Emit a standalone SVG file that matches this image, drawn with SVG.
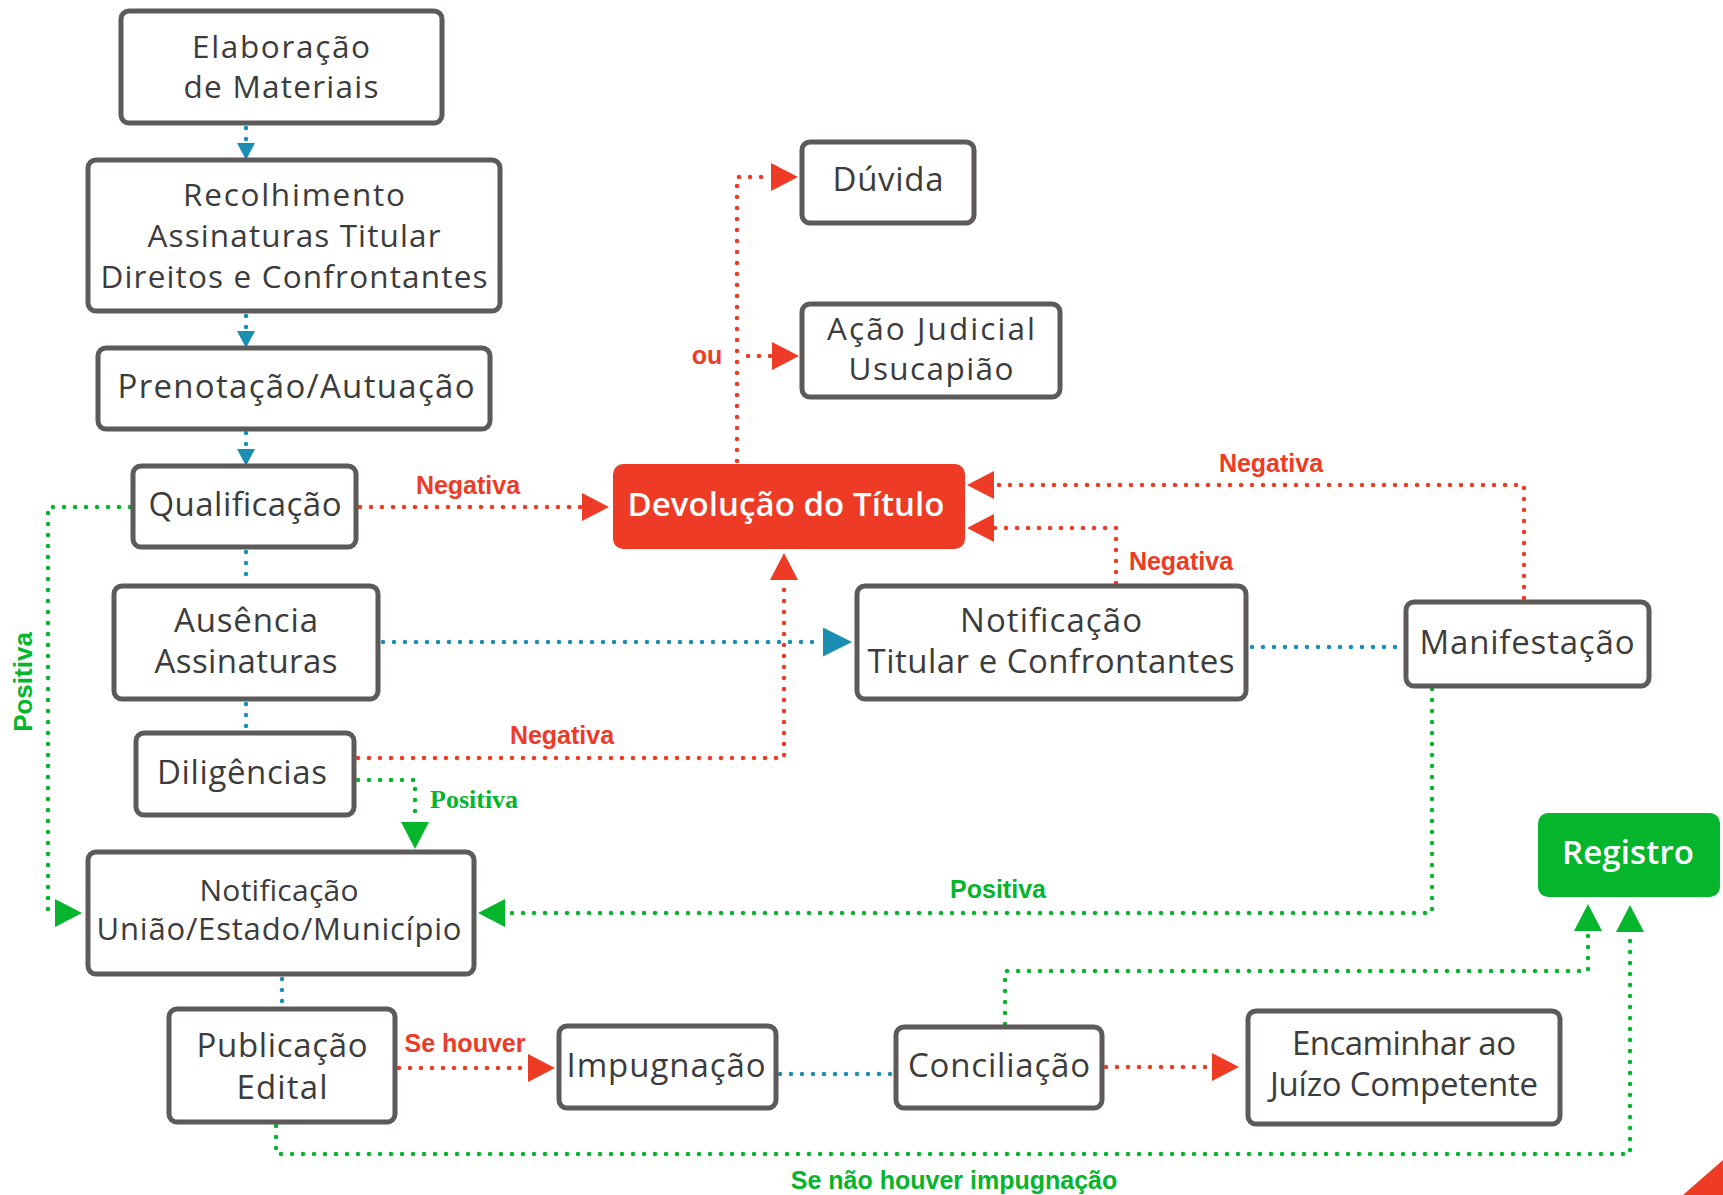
<svg xmlns="http://www.w3.org/2000/svg" width="1723" height="1195" viewBox="0 0 1723 1195">
<style>
.box{fill:#fff;stroke:#5e5a59;stroke-width:5}
.t{font-family:"Open Sans",Lato,"Liberation Sans",sans-serif;font-size:33px;fill:#3c3c3c;text-anchor:middle;font-weight:500}
.t2{font-size:31.5px}
.tw{font-family:"Open Sans",Lato,"Liberation Sans",sans-serif;font-size:33px;fill:#fff;text-anchor:middle;font-weight:600}
.c{fill:none;stroke-width:4.5;stroke-linecap:round;stroke-dasharray:0 11}
.r{stroke:#ee3b25}.g{stroke:#05b52c}.b{stroke:#1a8fb3}
.lab{font-family:"Liberation Sans",Arial,sans-serif;font-weight:bold;font-size:25px;text-anchor:middle}
.lr{fill:#ee3b25}.lg{fill:#05b52c}
</style>
<defs>
<marker id="mr" markerUnits="userSpaceOnUse" viewBox="0 0 27 28" markerWidth="27" markerHeight="28" refX="0" refY="14" orient="auto"><path d="M0,0 L27,14 L0,28 Z" fill="#ee3b25"/></marker>
<marker id="mg" markerUnits="userSpaceOnUse" viewBox="0 0 27 28" markerWidth="27" markerHeight="28" refX="0" refY="14" orient="auto"><path d="M0,0 L27,14 L0,28 Z" fill="#05b52c"/></marker>
<marker id="mb" markerUnits="userSpaceOnUse" viewBox="0 0 29 29" markerWidth="29" markerHeight="29" refX="0" refY="14.5" orient="auto"><path d="M0,0 L29,14.5 L0,29 Z" fill="#1a8fb3"/></marker>
<marker id="mbs" markerUnits="userSpaceOnUse" viewBox="0 0 17 18" markerWidth="17" markerHeight="18" refX="0" refY="9" orient="auto"><path d="M0,0 L17,9 L0,18 Z" fill="#1a8fb3"/></marker>
</defs>

<g id="connectors">
<path class="c b" d="M246,128 V143" marker-end="url(#mbs)"/>
<path class="c b" d="M246,316 V331" marker-end="url(#mbs)"/>
<path class="c b" d="M246,433 V449" marker-end="url(#mbs)"/>
<path class="c b" d="M246,552 V582"/>
<path class="c b" d="M246,704 V730"/>
<path class="c b" d="M383,642 H823" marker-end="url(#mb)"/>
<path class="c b" d="M1252,647 H1400"/>
<path class="c b" d="M282,979 V1005"/>
<path class="c b" d="M780,1074 H892"/>
<path class="c r" d="M360,507 H582" marker-end="url(#mr)"/>
<path class="c r" d="M358,758 H784 V580" marker-end="url(#mr)"/>
<path class="c r" d="M1116,583 V528 H994" marker-end="url(#mr)"/>
<path class="c r" d="M1524,598 V485 H994" marker-end="url(#mr)"/>
<path class="c r" d="M737,461 V177 H771" marker-end="url(#mr)"/>
<path class="c r" d="M748,356 H772" marker-end="url(#mr)"/>
<path class="c r" d="M399,1068 H528" marker-end="url(#mr)"/>
<path class="c r" d="M1106,1067 H1212" marker-end="url(#mr)"/>
<path class="c g" d="M358,780 H415 V822" marker-end="url(#mg)"/>
<path class="c g" d="M130,507 H48 V913 H55" marker-end="url(#mg)"/>
<path class="c g" d="M1432,689 V913 H505" marker-end="url(#mg)"/>
<path class="c g" d="M1005,1024 V971 H1588 V931" marker-end="url(#mg)"/>
<path class="c g" d="M276,1126 V1154 H1630 V932" marker-end="url(#mg)"/>
<text class="lab lr" x="468" y="494">Negativa</text>
<text class="lab lr" x="562" y="744">Negativa</text>
<text class="lab lr" x="1181" y="570">Negativa</text>
<text class="lab lr" x="1271" y="472">Negativa</text>
<text class="lab lr" x="707" y="364">ou</text>
<text class="lab lr" x="465" y="1052">Se houver</text>
<text class="lab lg" x="998" y="898">Positiva</text>
<text class="lab lg" x="954" y="1189">Se não houver impugnação</text>
<text class="lab lg" x="32" y="682" transform="rotate(-90 32 682)" style="font-size:26px">Positiva</text>
<text class="lg" x="430" y="808" style="font-family:'Liberation Serif','Times New Roman',serif;font-weight:bold;font-size:26px">Positiva</text>
</g>

<g id="n-elaboracao"><rect class="box" x="121" y="11" width="321" height="112" rx="8"/>
<text class="t t2" x="281" y="58" textLength="178">Elaboração</text><text class="t t2" x="281" y="98" textLength="195">de Materiais</text></g>
<g id="n-recolhimento"><rect class="box" x="88" y="160" width="412" height="151" rx="8"/>
<text class="t t2" x="294" y="206" textLength="222">Recolhimento</text><text class="t t2" x="294" y="247" textLength="293">Assinaturas Titular</text><text class="t t2" x="294" y="288" textLength="387">Direitos e Confrontantes</text></g>
<g id="n-prenotacao"><rect class="box" x="98" y="348" width="392" height="81" rx="8"/>
<text class="t" x="296" y="398" textLength="357">Prenotação/Autuação</text></g>
<g id="n-qualificacao"><rect class="box" x="133" y="466" width="223" height="81" rx="8"/>
<text class="t" x="245" y="516" textLength="193">Qualificação</text></g>
<g id="n-ausencia"><rect class="box" x="114" y="586" width="264" height="113" rx="8"/>
<text class="t" x="246" y="632" textLength="144">Ausência</text><text class="t" x="246" y="673" textLength="183">Assinaturas</text></g>
<g id="n-diligencias"><rect class="box" x="136" y="733" width="218" height="82" rx="8"/>
<text class="t" x="242" y="784" textLength="170">Diligências</text></g>
<g id="n-notif-uniao"><rect class="box" x="88" y="852" width="386" height="122" rx="8"/>
<text class="t" x="279" y="901" textLength="159" style="font-size:30px">Notificação</text><text class="t" x="279" y="940" textLength="365" style="font-size:31px">União/Estado/Município</text></g>
<g id="n-publicacao"><rect class="box" x="169" y="1009" width="226" height="113" rx="8"/>
<text class="t" x="282" y="1057" textLength="171">Publicação</text><text class="t" x="282" y="1099" textLength="91">Edital</text></g>
<g id="n-impugnacao"><rect class="box" x="559" y="1026" width="217" height="82" rx="8"/>
<text class="t" x="666" y="1077" textLength="199">Impugnação</text></g>
<g id="n-conciliacao"><rect class="box" x="896" y="1027" width="206" height="81" rx="8"/>
<text class="t" x="999" y="1077" textLength="182">Conciliação</text></g>
<g id="n-encaminhar"><rect class="box" x="1248" y="1011" width="312" height="113" rx="8"/>
<text class="t" x="1404" y="1055" textLength="224">Encaminhar ao</text><text class="t" x="1404" y="1096" textLength="268">Juízo Competente</text></g>
<g id="n-registro"><rect x="1538" y="813" width="182" height="84" rx="10" fill="#05b52c"/>
<text class="tw" x="1628" y="864" textLength="132">Registro</text></g>
<g id="n-manifestacao"><rect class="box" x="1406" y="602" width="243" height="84" rx="8"/>
<text class="t" x="1527" y="654" textLength="215">Manifestação</text></g>
<g id="n-notif-titular"><rect class="box" x="857" y="586" width="389" height="113" rx="8"/>
<text class="t" x="1051" y="632" textLength="182">Notificação</text><text class="t" x="1051" y="673" textLength="367">Titular e Confrontantes</text></g>
<g id="n-devolucao"><rect x="613" y="464" width="352" height="85" rx="10" fill="#ee3b25"/>
<text class="tw" x="786" y="516" textLength="317">Devolução do Título</text></g>
<g id="n-duvida"><rect class="box" x="802" y="142" width="172" height="81" rx="8"/>
<text class="t" x="888" y="191" textLength="111">Dúvida</text></g>
<g id="n-acao"><rect class="box" x="802" y="304" width="258" height="93" rx="8"/>
<text class="t t2" x="931" y="340" textLength="208">Ação Judicial</text><text class="t t2" x="931" y="380" textLength="165">Usucapião</text></g>
<polygon id="corner" points="1683,1195 1723,1160 1723,1195" fill="#ee3b25"/>
</svg>
